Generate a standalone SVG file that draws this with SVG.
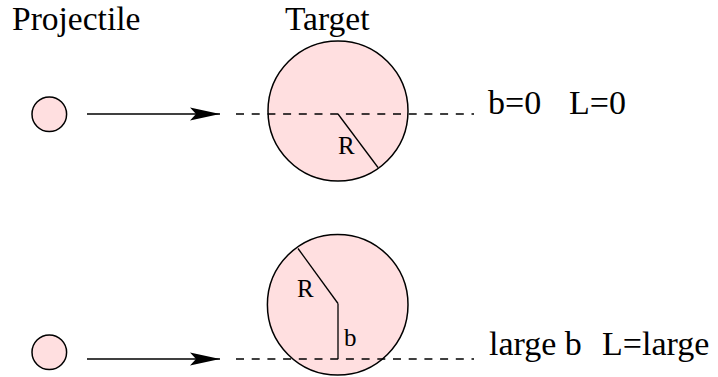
<svg xmlns="http://www.w3.org/2000/svg" width="718" height="377" viewBox="0 0 718 377">
  <style>
    .bg { fill: #ffffff; }
    .ball { fill: #ffdfe0; stroke: #000000; stroke-width: 1.5; }
    .lbl { font-family: "Liberation Serif", "Times New Roman", serif; font-size: 34px; fill: #000000; }
    .head { font-family: "Liberation Serif", "Times New Roman", serif; font-size: 33.5px; fill: #000000; }
    .small { font-family: "Liberation Serif", "Times New Roman", serif; font-size: 25px; fill: #000000; }
    .arrow { stroke: #000000; stroke-width: 1.4; fill: none; }
    .dash { stroke: #000000; stroke-width: 1.4; fill: none; stroke-dasharray: 8 7.7; }
    .rad { stroke: #000000; stroke-width: 1.3; fill: none; }
  </style>
  <defs>
    <marker id="head" markerUnits="userSpaceOnUse" viewBox="0 0 30 13" markerWidth="30" markerHeight="13" refX="30" refY="6.5" orient="auto" overflow="visible">
      <path d="M0,0 L30,6.5 L0,13 L6,6.5 Z" fill="#000000"/>
    </marker>
  </defs>
  <rect class="bg" x="0" y="0" width="718" height="377"/>

  <text class="head" x="12" y="30">Projectile</text>
  <text class="head" x="285" y="30">Target</text>

  <g id="projectile-top">
    <circle class="ball" cx="49.3" cy="114.3" r="17.3"/>
  </g>
  <g id="target-top">
    <circle class="ball" cx="338" cy="111" r="70"/>
    <line class="rad" x1="338" y1="114" x2="378" y2="167.5"/>
    <text class="small" x="338" y="154">R</text>
  </g>
  <g id="label-top">
    <text class="lbl" x="488" y="113.5">b=0</text>
    <text class="lbl" x="569" y="113.5">L=0</text>
  </g>

  <g id="projectile-bottom">
    <circle class="ball" cx="49.3" cy="352.3" r="17.3"/>
  </g>
  <g id="target-bottom">
    <circle class="ball" cx="337.7" cy="304.7" r="70.3"/>
    <line class="rad" x1="298" y1="248.5" x2="338" y2="303.5"/>
    <line class="rad" x1="338" y1="303.5" x2="338" y2="359"/>
    <text class="small" x="297" y="297">R</text>
    <text class="small" x="344" y="346">b</text>
  </g>
  <g id="label-bottom">
    <text class="lbl" x="489" y="355">large b</text>
    <text class="lbl" x="602" y="355">L=large</text>
  </g>

  <g id="connectors">
    <line class="arrow" x1="87" y1="114" x2="220" y2="114" marker-end="url(#head)"/>
    <line class="dash" x1="236" y1="114" x2="474" y2="114"/>
    <line class="arrow" x1="87" y1="359" x2="220" y2="359" marker-end="url(#head)"/>
    <line class="dash" x1="236" y1="359" x2="474" y2="359"/>
  </g>
</svg>
